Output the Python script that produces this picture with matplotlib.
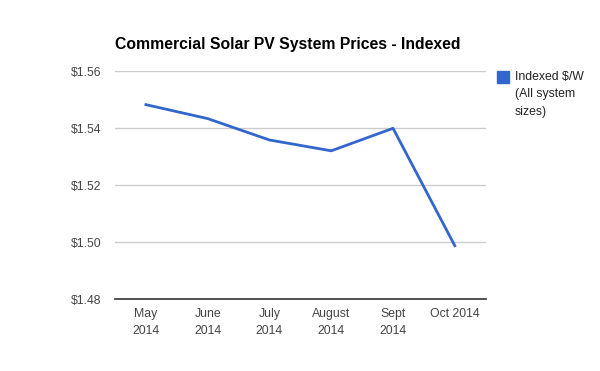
import matplotlib
matplotlib.use('Agg')
import matplotlib.pyplot as plt

# -- DATA --
months = ['May\n2014', 'June\n2014', 'July\n2014', 'August\n2014', 'Sept\n2014', 'Oct 2014']
prices = [1.5483, 1.5434, 1.5359, 1.5321, 1.5400, 1.4988]
y_ticks = [1.48, 1.50, 1.52, 1.54, 1.56]
series_label = 'Indexed $/W\n(All system\nsizes)'

plt.rcParams['font.family'] = ['Liberation Sans', 'DejaVu Sans']

fig = plt.figure(figsize=(6, 3.71), dpi=100)
ax = fig.add_axes([0.1917, 0.1933, 0.6178, 0.6145])

x = range(len(months))
ax.plot(x, prices, color='#3366cc', linewidth=2, solid_joinstyle='round')

ax.set_xlim(-0.5, len(months) - 0.5)
ax.set_ylim(y_ticks[0], y_ticks[-1])
ax.set_yticks(y_ticks)
ax.set_yticklabels([f'${v:.2f}' for v in y_ticks])
ax.set_xticks(list(x))
ax.set_xticklabels(months, linespacing=1.55)

ax.grid(axis='y', color='#cccccc', linewidth=1)
ax.set_axisbelow(True)
for side in ['top', 'right', 'left']:
    ax.spines[side].set_visible(False)
ax.spines['bottom'].set_color('#333333')
ax.spines['bottom'].set_linewidth(1.2)
ax.spines['bottom'].set_zorder(1)

ax.tick_params(axis='both', length=0, labelsize=8.8, labelcolor='#444444')
ax.tick_params(axis='y', pad=9.5)
ax.tick_params(axis='x', pad=6.5)

fig.text(0.1917, 1 - 45 / 371, 'Commercial Solar PV System Prices - Indexed',
         fontsize=11.3, fontweight='bold', color='black', ha='left', va='center')

# legend drawn by hand to match the Google Charts look
fig.patches.append(plt.Rectangle((497 / 600, 1 - 83 / 371), 12 / 600, 12 / 371,
                                 transform=fig.transFigure, color='#3366cc', figure=fig))
fig.text(515 / 600, 1 - 71 / 371, series_label, fontsize=8.8, color='#222222',
         ha='left', va='top', linespacing=1.6)

plt.savefig('out.png', dpi=100)
plt.close(fig)
